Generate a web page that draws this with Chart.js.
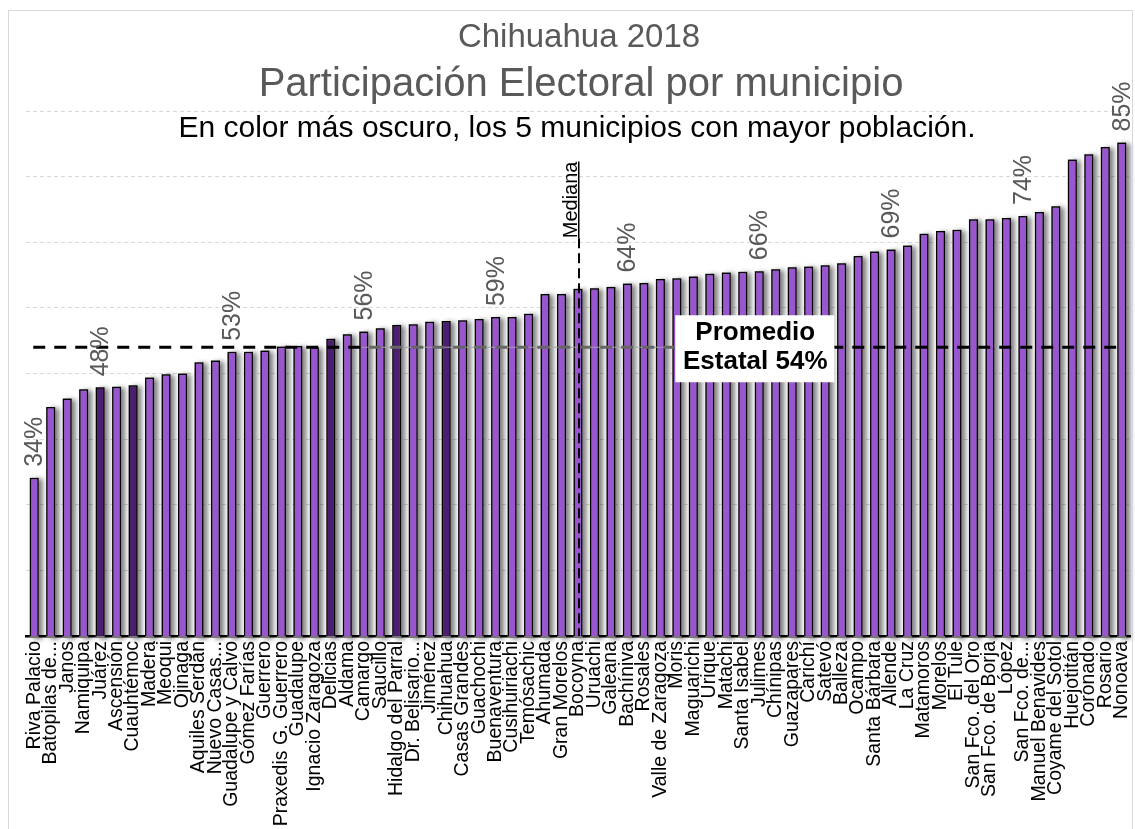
<!DOCTYPE html>
<html lang="es">
<head>
<meta charset="utf-8">
<title>Participación Electoral por municipio</title>
<script src="https://cdn.jsdelivr.net/npm/chart.js@4.4.1/dist/chart.umd.min.js"></script>
<style>
  html, body { margin: 0; padding: 0; background: #fff; }
  canvas { display: block; }
</style>
</head>
<body>
<canvas id="participacion" width="1135" height="829"></canvas>
<script>
// participación electoral 2018 por municipio de Chihuahua, de menor a mayor

"use strict";

const municipios = [
  'Riva Palacio', 'Batopilas de...', 'Janos', 'Namiquipa', 'Juárez', 'Ascensión',
  'Cuauhtémoc', 'Madera', 'Meoqui', 'Ojinaga', 'Aquiles Serdán', 'Nuevo Casas...',
  'Guadalupe y Calvo', 'Gómez Farías', 'Guerrero', 'Praxedis G. Guerrero', 'Guadalupe',
  'Ignacio Zaragoza', 'Delicias', 'Aldama', 'Camargo', 'Saucillo', 'Hidalgo del Parral',
  'Dr. Belisario...', 'Jiménez', 'Chihuahua', 'Casas Grandes', 'Guachochi', 'Buenaventura',
  'Cusihuiriachi', 'Temósachic', 'Ahumada', 'Gran Morelos', 'Bocoyna', 'Uruachi',
  'Galeana', 'Bachíniva', 'Rosales', 'Valle de Zaragoza', 'Moris', 'Maguarichi',
  'Urique', 'Matachi', 'Santa Isabel', 'Julimes', 'Chínipas', 'Guazapares', 'Carichí',
  'Satevó', 'Balleza', 'Ocampo', 'Santa Bárbara', 'Allende', 'La Cruz', 'Matamoros',
  'Morelos', 'El Tule', 'San Fco. del Oro', 'San Fco. de Borja', 'López', 'San Fco. de...',
  'Manuel Benavides', 'Coyame del Sotol', 'Huejotitán', 'Coronado', 'Rosario', 'Nonoava'
];

const participacion = [
  34.1, 44.9, 46.2, 47.6, 47.9, 48.0,
  48.2, 49.4, 49.9, 50.0, 51.7, 52.0,
  53.3, 53.3, 53.5, 54.1, 54.2,
  54.0, 55.3, 56.0, 56.4, 56.9, 57.4,
  57.5, 57.9, 58.0, 58.1, 58.3, 58.6,
  58.6, 59.1, 62.1, 62.1, 62.9, 63.0,
  63.2, 63.7, 63.8, 64.4, 64.5, 64.8,
  65.2, 65.4, 65.5, 65.6, 65.9, 66.2, 66.3,
  66.5, 66.8, 67.9, 68.6, 68.9, 69.5, 71.3,
  71.7, 71.9, 73.5, 73.5, 73.7, 74.0,
  74.6, 75.5, 82.6, 83.4, 84.5, 85.2
];

// los 5 municipios con mayor población (color oscuro)
const masPoblados = ['Juárez', 'Cuauhtémoc', 'Delicias', 'Hidalgo del Parral', 'Chihuahua'];

// barras que llevan su porcentaje escrito encima
const conEtiqueta = ['Riva Palacio', 'Juárez', 'Guadalupe y Calvo', 'Camargo', 'Buenaventura',
  'Bachíniva', 'Julimes', 'Allende', 'San Fco. de...', 'Nonoava'];

const promedioEstatal = 54;
const mediana = 'Bocoyna';
const ticksY = [10, 20, 30, 40, 50, 60, 70, 80, 90];

const fuente = '"Liberation Sans", Arial, Helvetica, sans-serif';
const claro = '#9a56ce';
const oscuro = '#4b1f6e';

const colores = municipios.map(m => masPoblados.includes(m) ? oscuro : claro);

// sombra gris a la derecha de cada barra
const sombra = {
  id: 'sombra',
  beforeDatasetsDraw(chart) {
    const ctx = chart.ctx;
    const fondo = chart.chartArea.bottom + 2;
    ctx.save();
    ctx.shadowColor = 'rgba(0,0,0,0.5)';
    ctx.shadowBlur = 5;
    ctx.shadowOffsetX = 4;
    ctx.shadowOffsetY = 1;
    ctx.fillStyle = '#777';
    chart.getDatasetMeta(0).data.forEach(bar => {
      const p = bar.getProps(['x', 'y', 'base', 'width'], true);
      const base = Math.min(p.base, fondo);
      ctx.fillRect(p.x - p.width / 2, p.y, p.width, base - p.y);
    });
    ctx.restore();
  }
};

let linea = function (ctx, x1, y1, x2, y2, color, ancho, dash, offset)
{
  ctx.save();
  ctx.strokeStyle = color;
  ctx.lineWidth = ancho;
  ctx.setLineDash(dash);
  ctx.lineDashOffset = offset || 0;
  ctx.beginPath();
  ctx.moveTo(x1, y1);
  ctx.lineTo(x2, y2);
  ctx.stroke();
  ctx.restore();
};

const anotaciones = {
  id: 'anotaciones',
  afterDatasetsDraw(chart) {
    const ctx = chart.ctx;
    const xs = chart.scales.x;
    const ys = chart.scales.y;
    const meta = chart.getDatasetMeta(0);

    // línea del promedio estatal
    const yp = ys.getPixelForValue(promedioEstatal);
    const x0 = xs.getPixelForValue(0) - 1;
    const xf = xs.getPixelForValue(municipios.length - 1) - 1;
    const xg = xs.getPixelForValue(20) - 2;
    const cx = xs.getPixelForValue(44) - 4;
    const boxL = cx - 80, boxR = cx + 79;
    linea(ctx, x0, yp, xg, yp, '#000', 3, [12, 9]);
    linea(ctx, xg, yp, boxL, yp, '#a0a0a0', 1, []);
    linea(ctx, xg, yp, boxL, yp, '#666', 3, [12, 9], xg - x0);
    linea(ctx, boxR, yp, xf, yp, '#000', 3, [12, 9], boxR - x0);

    ctx.save();
    ctx.fillStyle = '#fff';
    ctx.fillRect(boxL, yp - 32, boxR - boxL, 67);
    ctx.fillStyle = '#000';
    ctx.font = 'bold 26px ' + fuente;
    ctx.textAlign = 'center';
    ctx.textBaseline = 'middle';
    ctx.fillText('Promedio', cx, yp - 14);
    ctx.fillText('Estatal ' + promedioEstatal + '%', cx, yp + 15);
    ctx.restore();

    // mediana
    const xm = xs.getPixelForValue(municipios.indexOf(mediana)) + 1;
    const ym = ys.getPixelForValue(70) - 4;
    linea(ctx, xm, ym, xm, chart.chartArea.bottom, '#000', 2, [10, 5]);
    ctx.save();
    ctx.translate(xm - 2, ym);
    ctx.rotate(-Math.PI / 2);
    ctx.font = '20px ' + fuente;
    ctx.fillStyle = '#000';
    ctx.textAlign = 'left';
    ctx.textBaseline = 'alphabetic';
    ctx.fillText('Mediana', 0, 0);
    const w = ctx.measureText('Mediana').width;
    ctx.fillRect(0, 1, w, 1.5);
    ctx.restore();

    // porcentajes sobre algunas barras
    ctx.save();
    ctx.font = '25px ' + fuente;
    ctx.fillStyle = '#595959';
    ctx.textAlign = 'left';
    ctx.textBaseline = 'middle';
    conEtiqueta.forEach(nombre => {
      const i = municipios.indexOf(nombre);
      const bar = meta.data[i];
      ctx.save();
      ctx.translate(bar.x + 1, bar.y - 11);
      ctx.rotate(-Math.PI / 2);
      ctx.fillText(Math.round(participacion[i]) + '%', 0, 0);
      ctx.restore();
    });
    ctx.restore();
  },
  afterDraw(chart) {
    const ctx = chart.ctx;
    ctx.save();
    ctx.strokeStyle = '#d9d9d9';
    ctx.lineWidth = 1;
    ctx.strokeRect(8.5, 10.5, 1124, 840);
    ctx.textAlign = 'center';
    ctx.textBaseline = 'alphabetic';
    ctx.fillStyle = '#595959';
    ctx.font = '33px ' + fuente;
    ctx.fillText('Chihuahua 2018', 579, 47);
    ctx.font = '40px ' + fuente;
    ctx.fillText('Participación Electoral por municipio', 581, 96);
    ctx.fillStyle = '#000';
    ctx.font = '30px ' + fuente;
    ctx.fillText('En color más oscuro, los 5 municipios con mayor población.', 577, 137);
    ctx.restore();
  }
};

const ctx = document.getElementById('participacion').getContext('2d');

const config = {
  type: 'bar',
  data: {
    labels: municipios,
    datasets: [{
      data: participacion,
      backgroundColor: colores,
      borderColor: '#000',
      borderWidth: 1.5,
      barPercentage: 0.55,
      categoryPercentage: 1
    }]
  },
  options: {
    responsive: false,
    animation: false,
    layout: { padding: { top: 111, left: 26, right: 5, bottom: 0 } },
    plugins: {
      legend: { display: false },
      tooltip: { enabled: false },
      title: { display: false }
    },
    scales: {
      x: {
        grid: { display: false, drawTicks: false },
        border: { display: true, color: '#000', width: 2.5 },
        ticks: {
          autoSkip: false,
          minRotation: 90,
          maxRotation: 90,
          padding: 5,
          color: '#000',
          font: { family: fuente, size: 19.5 }
        },
        afterFit: function (scale) {
          scale.height = 193;
          scale.paddingLeft = 0;
          scale.paddingRight = 0;
        }
      },
      y: {
        min: ticksY[0],
        max: ticksY[ticksY.length - 1],
        grid: { color: '#d9d9d9', lineWidth: 1, drawTicks: false },
        border: { display: false, dash: [4, 3] },
        ticks: { display: false, stepSize: 10 }
      }
    }
  },
  plugins: [sombra, anotaciones]
};

const grafica = new Chart(ctx, config);
</script>
</body>
</html>
